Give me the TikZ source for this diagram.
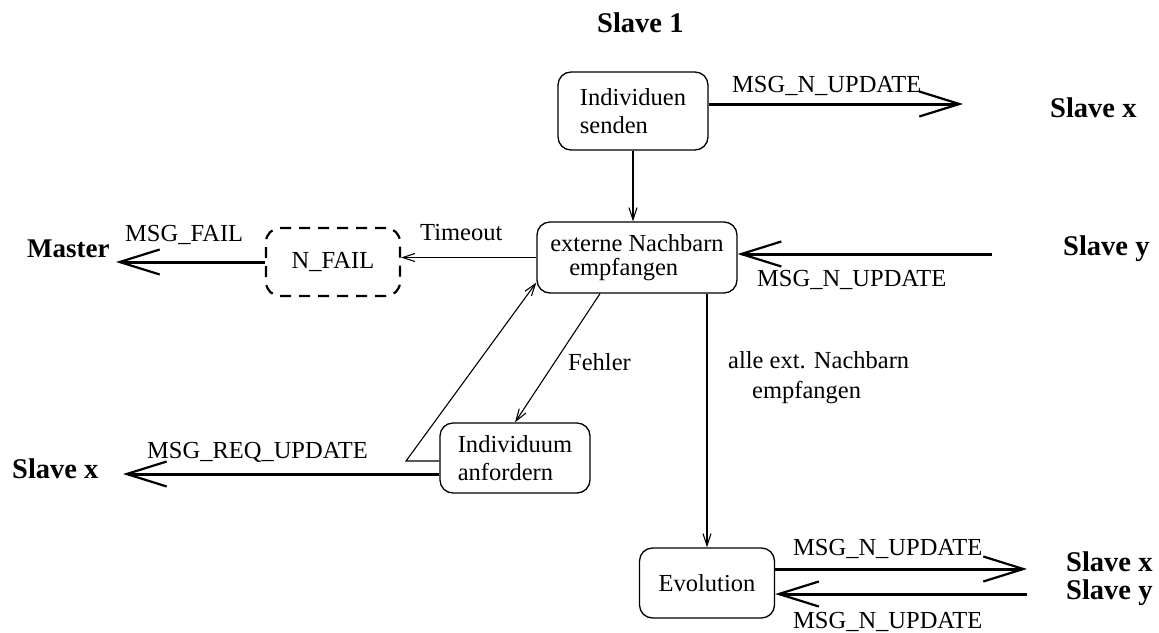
\documentclass[tikz,border=0pt]{standalone}
\usepackage{fontspec}
\setmainfont{Liberation Serif}
\usetikzlibrary{arrows.meta}
\begin{document}
\begin{tikzpicture}[x=1pt,y=-1pt,
  every node/.style={font=\fontsize{24.5}{28}\selectfont},
  state/.style={draw, line width=1.3pt, rounded corners=13pt, inner sep=0pt, align=left},
  failstate/.style={draw, line width=2.2pt, dash pattern=on 11pt off 8pt, rounded corners=14pt, inner sep=0pt},
  peer/.style={font=\fontsize{28.5}{30}\selectfont\bfseries, inner sep=0pt, anchor=base west},
  lbl/.style={inner sep=0pt, anchor=base west},
  msg/.style={line width=3pt, -{Straight Barb[length=40pt,width=25pt,line width=2.2pt]}},
  flow/.style={line width=1.1pt, -{Straight Barb[length=12pt,width=8pt,line width=1.1pt]}}
]
\useasboundingbox (0,0) rectangle (1159,632);

% states
\node[state, minimum width=150pt, minimum height=78pt] (send) at (633,111) {Individuen\\senden};
\node[state, minimum width=200pt, minimum height=71pt, font=\fontsize{24.5}{24}\selectfont] (ext) at (637,257.5) {externe Nachbarn\\\hspace*{19pt}empfangen};
\node[failstate, minimum width=134pt, minimum height=68pt] (nfail) at (333,262) {N\_FAIL};
\node[state, minimum width=150pt, minimum height=70pt] (indiv) at (515,458) {Individuum\\anfordern};
\node[state, minimum width=135pt, minimum height=70pt] (evo) at (707,583) {Evolution};

% communication partners
\node[peer] (s1) at (597,32) {Slave 1};
\node[peer] (sx1) at (1050,117) {Slave x};
\node[peer] (sy1) at (1063,255) {Slave y};
\node[peer, font=\fontsize{27}{30}\selectfont\bfseries] (master) at (27,257) {Master};
\node[peer] (sx2) at (12,478) {Slave x};
\node[peer] (sx3) at (1066,571) {Slave x};
\node[peer] (sy3) at (1066,599) {Slave y};

% free ends of the message arrows
\coordinate (o1) at (963,104);
\coordinate (i1) at (992,254);
\coordinate (mt) at (116,262);
\coordinate (rt) at (123,474);
\coordinate (o3) at (1027,569);
\coordinate (i3) at (1027,594);
\coordinate (bend) at (406,461);

% messages
\draw[msg] (send.east |- o1) -- (o1);
\draw[msg] (i1) -- (i1 -| ext.east);
\draw[msg] (nfail.west) -- (nfail.west -| mt);
\draw[msg] (indiv.west |- rt) -- (rt);
\draw[msg] (evo.east |- o3) -- (o3);
\draw[msg] (i3) -- (i3 -| evo.east);

% transitions
\draw[flow] (send.south) -- (ext.north -| send.south);
\draw[flow] (ext.west) -- (ext.west -| nfail.east);
\draw[flow] ([xshift=-37pt]ext.south) -- (indiv.north);
\draw[flow] (indiv.west |- bend) -- (bend) -- ([yshift=-25pt]ext.west);
\draw[flow] (ext.south -| evo.north) -- (evo.north);

% labels
\node[lbl] (l1) at (732,92) {MSG\_N\_UPDATE};
\node[lbl] (l2) at (757,286) {MSG\_N\_UPDATE};
\node[lbl] (l3) at (420,240) {Timeout};
\node[lbl] (l4) at (125,241) {MSG\_FAIL};
\node[lbl] (l5) at (568,370) {Fehler};
\node[lbl] (l6a) at (728,368) {alle ext. Nachbarn};
\node[lbl] (l6b) at (752,398) {empfangen};
\node[lbl] (l7) at (147,458) {MSG\_REQ\_UPDATE};
\node[lbl] (l8) at (793,555) {MSG\_N\_UPDATE};
\node[lbl] (l9) at (793,628) {MSG\_N\_UPDATE};
\end{tikzpicture}
\end{document}
